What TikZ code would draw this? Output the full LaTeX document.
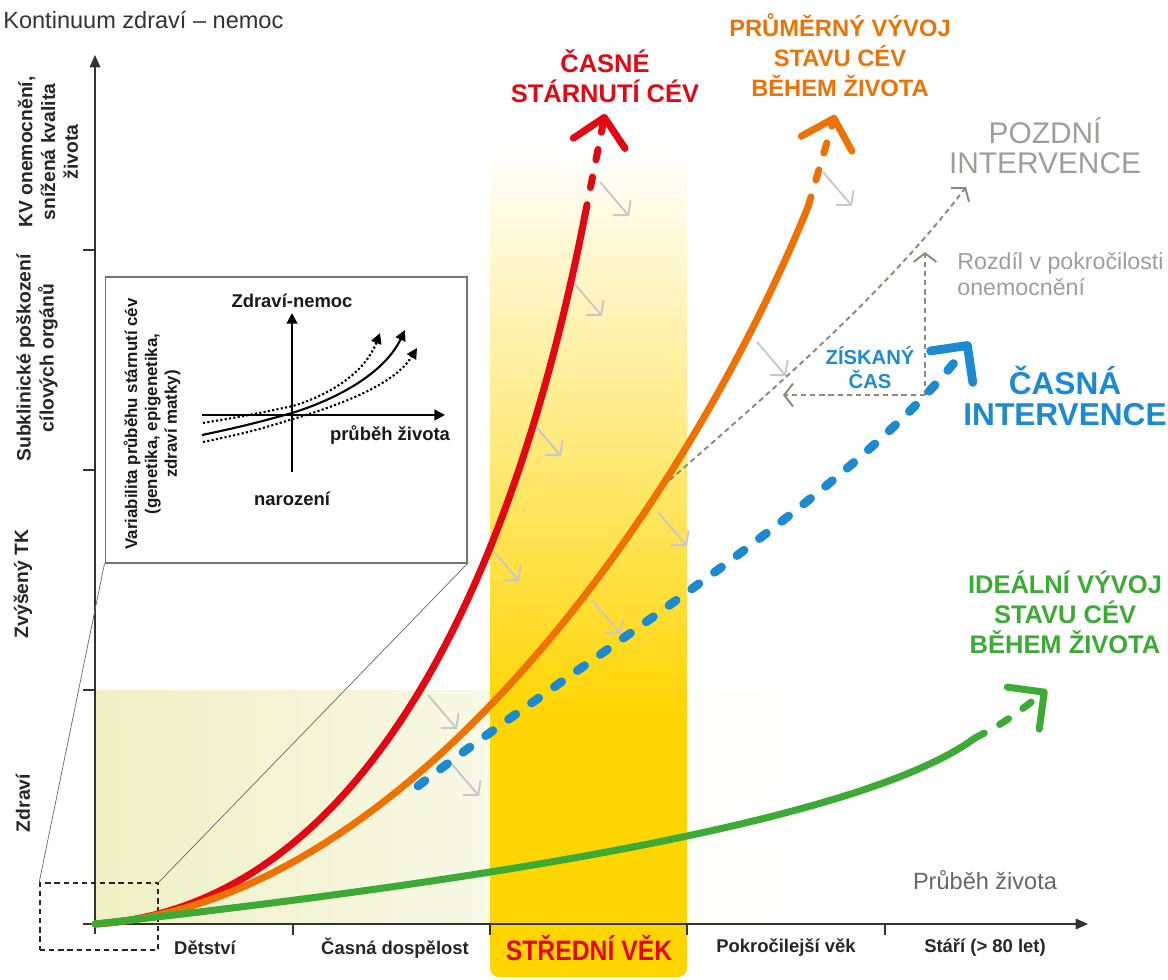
\documentclass[tikz,border=0pt]{standalone}
\usepackage{fontspec}
\setmainfont{Liberation Sans}
\newfontfamily\narrowfont{Liberation Sans}[FakeStretch=0.88]
\usepackage{xcolor}
\usepackage{tikz}
\usetikzlibrary{positioning, arrows.meta, calc}

\definecolor{vesselred}{HTML}{E30613}
\definecolor{vesselorange}{HTML}{EE7203}
\definecolor{vesselblue}{HTML}{1C8AD0}
\definecolor{vesselgreen}{HTML}{3DAA35}
\definecolor{bandyellow}{HTML}{FFD500}
\definecolor{healthpale}{HTML}{EEF0C4}
\definecolor{guidegrey}{HTML}{8C8782}
\definecolor{hintgrey}{HTML}{C8C8C8}
\definecolor{notegrey}{HTML}{9D9D9C}

\begin{document}
\begin{tikzpicture}[x=0.02cm, y=-0.02cm,
    curve/.style={line width=4pt, line cap=round, line join=round},
    tail/.style={curve, dash pattern=on 6pt off 10pt},
    bigtip/.style={-{Straight Barb[length=15pt, width=30pt, line cap=round, line join=round]}},
    axis/.style={line width=0.8pt, draw=black!80, -{Triangle[length=7pt, width=6pt]}},
    tick/.style={line width=0.8pt, draw=black!80},
    guide/.style={line width=1.1pt, draw=guidegrey, dash pattern=on 3pt off 2.2pt, -{Straight Barb[length=5pt, width=13pt]}},
    hint/.style={line width=1.1pt, draw=hintgrey, -{Straight Barb[length=5.5pt, width=13pt]}},
    headline/.style={align=center, inner sep=0pt, font=\bfseries\fontsize{14.5}{17}\selectfont},
    ylab/.style={rotate=90, align=center, inner sep=0pt, text=black!85, font=\bfseries\fontsize{11}{13}\selectfont},
    agelab/.style={inner sep=0pt, text=black!85, font=\bfseries\fontsize{10.5}{12}\selectfont},
    insetlab/.style={inner sep=0pt, text=black!90, font=\bfseries\fontsize{10.5}{12}\selectfont},
    insetcurve/.style={line width=1.2pt, -{Triangle[length=6pt, width=6pt]}},
    insetdots/.style={insetcurve, dash pattern=on 1.2pt off 1.3pt}
]
\useasboundingbox (0,0) rectangle (1168,979);

% background: healthy zone and middle-age band
\shade[left color=healthpale, right color=white, middle color=healthpale!50] (95,690) rectangle (780,924);
\fill[bandyellow, rounded corners=5pt] (490,700) rectangle (687,977);
\shade[top color=white, bottom color=bandyellow] (490,150) rectangle (687,722);

% axes
\coordinate (O) at (95,924);
\draw[axis] (95,934) -- (95,55);
\draw[axis] (83,924) -- (1088,924);
\foreach \ty in {250, 470, 690}
  \draw[tick] (83,\ty) -- (95,\ty);
\foreach \tx in {293, 490, 687, 885}
  \draw[tick] (\tx,924) -- (\tx,935);

\node[anchor=west, inner sep=0pt, text=black!80, font=\fontsize{13.4}{16}\selectfont] (title) at (3,20) {Kontinuum zdraví – nemoc};

% y axis stages
\node[ylab] (kv) at (48,152) {KV onemocnění,\\snížená kvalita\\života};
\node[ylab] (subkl) at (37,358) {Subklinické poškození\\cílových orgánů};
\node[ylab] (tk) at (23,584) {Zvýšený TK};
\node[ylab] (zdravi) at (23,803) {Zdraví};

% x axis stages
\node[agelab] (child) at (205,948) {Dětství};
\node[agelab] (adult) at (395,948) {Časná dospělost};
\node[inner sep=0pt, text=vesselred, font=\narrowfont\bfseries\fontsize{16}{18}\selectfont] (midage) at (589,948) {STŘEDNÍ VĚK};
\node[agelab] (later) at (786,948) {Pokročilejší věk};
\node[agelab] (old) at (985,948) {Stáří (> 80 let)};
\node[inner sep=0pt, text=black!60, font=\fontsize{13.4}{16}\selectfont] (course) at (985,880) {Průběh života};

% zoom box and inset
\node[draw=black!85, line width=0.9pt, dash pattern=on 3pt off 2.2pt, inner sep=0pt,
      minimum width=2.36cm, minimum height=1.34cm] (zoombox) at (99,916.5) {};
\node[draw=black!55, line width=0.6pt, inner sep=0pt,
      minimum width=7.24cm, minimum height=5.72cm] (inset) at (286,420) {};
\draw[black!60, line width=0.4pt] (zoombox.north west) -- (inset.south west);
\draw[black!60, line width=0.4pt] (zoombox.north east) -- (inset.south east);

\node[rotate=90, align=center, inner sep=0pt, text=black!90, font=\bfseries\fontsize{9.6}{11.3}\selectfont] (variab) at (152,424)
  {Variabilita průběhu stárnutí cév\\(genetika, epigenetika,\\zdraví matky)};

\coordinate (ixs) at (202,415);
\coordinate (ixe) at (445,415);
\coordinate (iys) at (292,472);
\coordinate (iye) at (292,313);
\draw[insetcurve] (ixs) -- (ixe);
\draw[insetcurve] (iys) -- (iye);
\node[insetlab, above=3pt of iye] (ihealth) {Zdraví-nemoc};
\node[insetlab] (ilife) at (390,435) {průběh života};
\node[insetlab, below=11pt of iys] (ibirth) {narození};

\draw[insetcurve] (202,435) .. controls (250,425) and (270,419) .. (292,413) .. controls (340,398) and (385,372) .. (405,330);
\draw[insetdots] (203,423) .. controls (250,415) .. (293,406) .. controls (335,393) and (366,370) .. (380,333);
\draw[insetdots] (203,442) .. controls (250,432) .. (293,419) .. controls (350,402) and (396,382) .. (417,348);

% small arrows: slowing of vessel ageing
\foreach \hx/\hy in {600/182, 823/172, 573/282, 532/422, 490/547, 658/512, 592/600, 757/342, 428/695, 450/762}
  \draw[hint] (\hx,\hy) -- ++(29,34);

% late intervention and gained time
\coordinate (lateStart) at (670,480);
\coordinate (lateTip) at (966,187);
\coordinate (gainCorner) at (925,395);
\coordinate (gainLeft) at (783,395);
\coordinate (gainTop) at (925,252);
\draw[guide] (lateStart) .. controls (760,400) and (880,300) .. (lateTip);
\draw[guide] (gainCorner) -- (gainLeft);
\draw[guide] (gainCorner) -- (gainTop);

% curves
\coordinate (redEnd) at (585,215);
\coordinate (redTip) at (605,114);
\draw[curve, vesselred] (O) .. controls (330,910) and (500,650) .. (redEnd);
\draw[tail, vesselred, bigtip] (redEnd) -- (redTip);

\coordinate (orangeEnd) at (808,207);
\coordinate (orangeTip) at (835,115);
\draw[curve, vesselorange] (O) .. controls (400,905) and (680,520) .. (orangeEnd);
\draw[tail, vesselorange, bigtip] (orangeEnd) -- (orangeTip);

\coordinate (blueStart) at (418,786);
\coordinate (blueTip) at (970,342);
\draw[curve, vesselblue, line width=5pt, dash pattern=on 5pt off 11pt, bigtip] (blueStart) .. controls (565,672) and (860,490) .. (blueTip);

\coordinate (greenEnd) at (975,738);
\coordinate (greenTip) at (1047,690);
\draw[curve, vesselgreen] (O) .. controls (400,890) and (850,830) .. (greenEnd);
\draw[tail, vesselgreen, bigtip] (greenEnd) .. controls (1005,722) .. (greenTip);

% curve labels
\node[headline, text=vesselred] (earlylbl) at (605,76) {ČASNÉ\\STÁRNUTÍ CÉV};
\node[headline, text=vesselorange, font=\bfseries\fontsize{13.5}{17}\selectfont] (avglbl) at (840,55) {PRŮMĚRNÝ VÝVOJ\\STAVU CÉV\\BĚHEM ŽIVOTA};
\node[align=center, inner sep=0pt, text=notegrey, font=\fontsize{17}{17}\selectfont] (latelbl) at (1045,146) {POZDNÍ\\INTERVENCE};
\node[anchor=west, align=left, inner sep=0pt, text=notegrey, font=\fontsize{13.2}{14.5}\selectfont] (difflbl) at (957,274) {Rozdíl v pokročilosti\\onemocnění};
\node[headline, text=vesselblue, font=\bfseries\fontsize{11.5}{13.5}\selectfont] (gainlbl) at (870,368) {ZÍSKANÝ\\ČAS};
\node[headline, text=vesselblue, font=\bfseries\fontsize{18}{18}\selectfont] (earlyint) at (1065,396) {ČASNÁ\\INTERVENCE};
\node[headline, text=vesselgreen] (ideallbl) at (1065,612) {IDEÁLNÍ VÝVOJ\\STAVU CÉV\\BĚHEM ŽIVOTA};

\end{tikzpicture}
\end{document}
